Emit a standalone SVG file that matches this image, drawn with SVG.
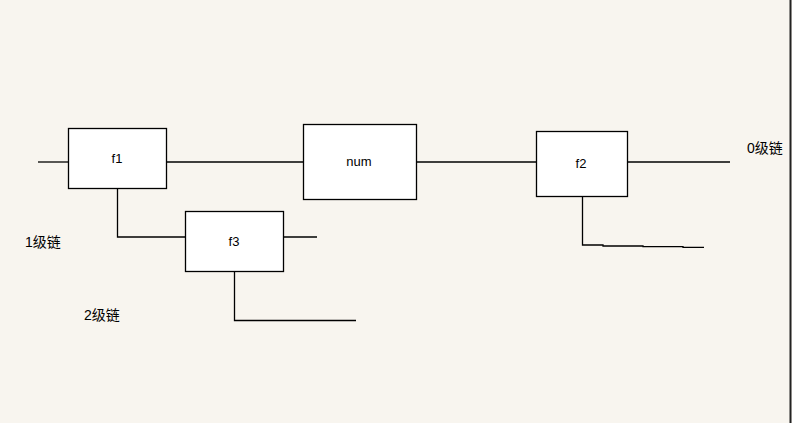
<svg xmlns="http://www.w3.org/2000/svg" width="792" height="423" viewBox="0 0 792 423">
<style>
.box{fill:#fff;stroke:#000;stroke-width:1.3}
.ln{fill:none;stroke:#000;stroke-width:1.3}
.t{font-family:"Liberation Sans","Noto Sans CJK SC",sans-serif;font-size:13px;fill:#000}
.c{font-size:14px}
</style>
<rect x="0" y="0" width="792" height="423" fill="#f8f5ef"/>
<line x1="790.5" y1="0" x2="790.5" y2="423" stroke="#222" stroke-width="2"/>
<g id="connectors">
<line class="ln" x1="38" y1="162" x2="68" y2="162"/>
<line class="ln" x1="166" y1="162" x2="303" y2="162"/>
<line class="ln" x1="416" y1="162" x2="536" y2="162"/>
<line class="ln" x1="627" y1="162" x2="730" y2="162"/>
<polyline class="ln" points="117.5,188 117.5,237 185,237"/>
<line class="ln" x1="283" y1="237" x2="317" y2="237"/>
<polyline class="ln" points="234.5,271 234.5,320.5 356,320.5"/>
<polyline class="ln" points="582.5,196 582.5,245 603,245 603,246 643,246 643,246.7 683,246.7 683,247.3 704,247.3"/>
</g>
<g id="f1"><rect class="box" x="68.5" y="128.5" width="98" height="60"/><text class="t" x="117" y="163" text-anchor="middle">f1</text></g>
<g id="num"><rect class="box" x="303.5" y="124.5" width="113" height="75"/><text class="t" x="359" y="166" text-anchor="middle">num</text></g>
<g id="f2"><rect class="box" x="536.5" y="131.5" width="91" height="65"/><text class="t" x="581" y="168" text-anchor="middle">f2</text></g>
<g id="f3"><rect class="box" x="185.5" y="211.5" width="98" height="60"/><text class="t" x="234" y="246" text-anchor="middle">f3</text></g>
<g id="labels">
<text class="t c" x="747" y="153">0级链</text>
<text class="t c" x="25" y="247">1级链</text>
<text class="t c" x="84" y="320">2级链</text>
</g>
</svg>
